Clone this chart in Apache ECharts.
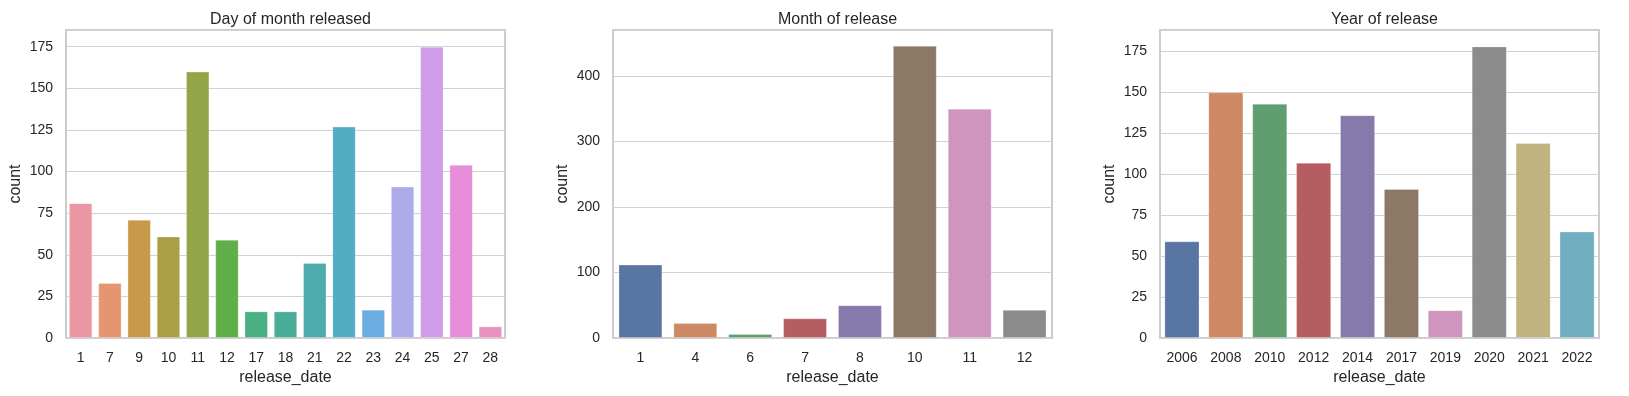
<!DOCTYPE html>
<html>
<head>
<meta charset="utf-8">
<script src="https://cdn.jsdelivr.net/npm/echarts@6/dist/echarts.min.js"></script>
<style>
html,body{margin:0;padding:0;background:#fff;}
#c{width:1629px;height:396px;}
</style>
</head>
<body>
<div id="c"></div>
<script>
// ---- data ----
const dayCategories = ['1','7','9','10','11','12','17','18','21','22','23','24','25','27','28'];
const dayCounts = [81, 33, 71, 61, 160, 59, 16, 16, 45, 127, 17, 91, 175, 104, 7];

const monthCategories = ['1','4','6','7','8','10','11','12'];
const monthCounts = [112, 23, 6, 30, 50, 446, 350, 43];

const yearCategories = ['2006','2008','2010','2012','2014','2017','2019','2020','2021','2022'];
const yearCounts = [59, 150, 143, 107, 136, 91, 17, 178, 119, 65];

const titles = ['Day of month released', 'Month of release', 'Year of release'];
const xAxisName = 'release_date';
const yAxisName = 'count';

// ---- styles ----
const dayColors = ['#EA96A3','#E5956F','#C8994A','#AC9D47','#93A547','#60AE47','#4AAF82','#4AAD9A',
                   '#4DABAE','#52ADC4','#6DAEE2','#AEABEA','#D09CE7','#E88DDA','#E893BF'];
const deepColors = ['#5975A4','#CC8963','#5F9E6E','#B55D60','#857AAB','#8D7866','#D095BF','#8C8C8C','#C1B37F','#71AEC0'];
const monthColors = deepColors.slice(0, 8);
const yearColors = deepColors.slice(0, 10);

const FONT = '"Liberation Sans", Arial, sans-serif';
const TXT = '#262626';
const plots = [
  {left: 66, cats: dayCategories, vals: dayCounts, colors: dayColors, max: 185, interval: 25},
  {left: 613, cats: monthCategories, vals: monthCounts, colors: monthColors, max: 470, interval: 100},
  {left: 1160, cats: yearCategories, vals: yearCounts, colors: yearColors, max: 188, interval: 25}
];
const W = 439, TOP = 30, H = 308;

const option = {
  animation: false,
  backgroundColor: '#ffffff',
  title: plots.map((p, i) => ({
    text: titles[i],
    left: p.left + W / 2,
    top: 7,
    textAlign: 'center',
    textStyle: {fontFamily: FONT, fontSize: 16, fontWeight: 'normal', color: TXT}
  })),
  grid: plots.map(p => ({
    left: p.left, top: TOP, width: W, height: H,
    show: true, borderColor: '#cccccc', borderWidth: 2, backgroundColor: 'transparent', containLabel: false
  })),
  xAxis: plots.map((p, i) => ({
    type: 'category', gridIndex: i, data: p.cats,
    boundaryGap: true,
    axisLine: {show: false},
    axisTick: {show: false},
    axisLabel: {fontFamily: FONT, fontSize: 14, color: TXT, margin: 13},
    name: xAxisName, nameLocation: 'middle', nameGap: 32,
    nameTextStyle: {fontFamily: FONT, fontSize: 16, color: TXT},
    splitLine: {show: false}
  })),
  yAxis: plots.map((p, i) => ({
    type: 'value', gridIndex: i, min: 0, max: p.max, interval: p.interval,
    axisLine: {show: false},
    axisTick: {show: false},
    axisLabel: {fontFamily: FONT, fontSize: 14, color: TXT, margin: 13, showMaxLabel: false},
    splitLine: {show: true, lineStyle: {color: '#d2d2d2', width: 1}},
    name: yAxisName, nameLocation: 'middle', nameGap: 42, nameRotate: 90,
    nameTextStyle: {fontFamily: FONT, fontSize: 16, color: TXT}
  })),
  series: plots.map((p, i) => ({
    type: 'bar', xAxisIndex: i, yAxisIndex: i,
    barCategoryGap: '20%',
    data: p.vals.map((v, j) => ({
      value: v,
      itemStyle: {color: p.colors[j], borderColor: 'rgba(255,255,255,0.25)', borderWidth: 1}
    }))
  }))
};

const chart = echarts.init(document.getElementById('c'), null, {renderer: 'canvas'});
chart.setOption(option);
</script>
</body>
</html>
